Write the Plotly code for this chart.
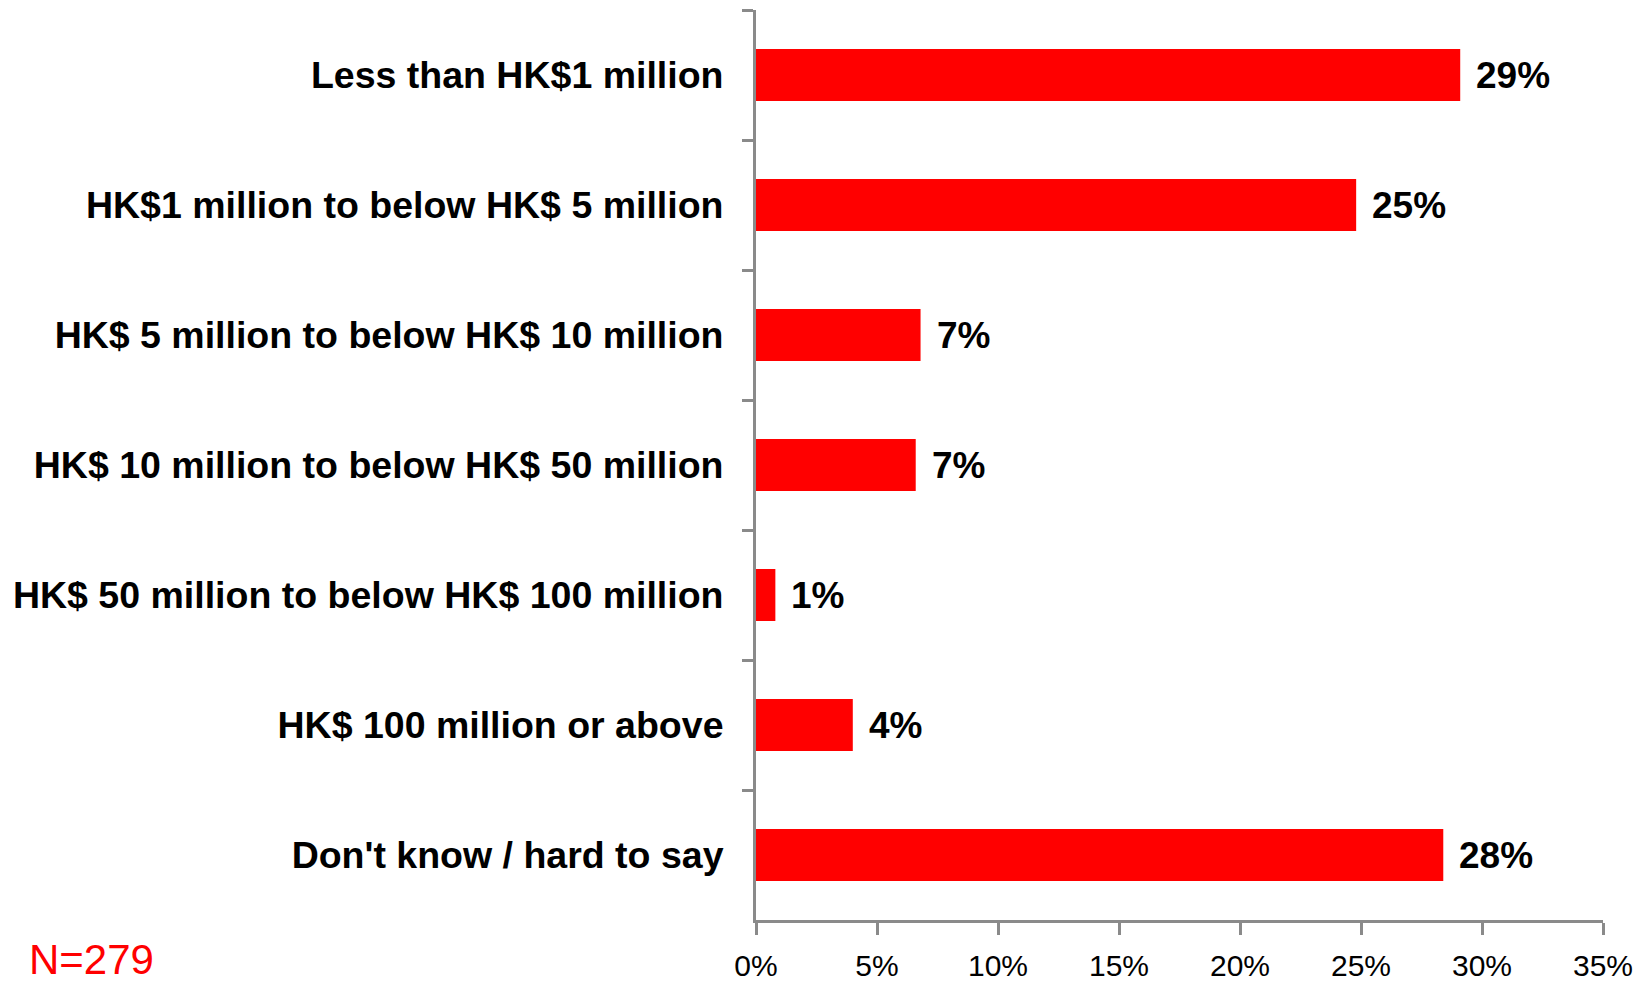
import plotly.graph_objects as go

# Survey responses: share of respondents per band
categories = [
    "Less than HK$1 million",
    "HK$1 million to below HK$ 5 million",
    "HK$ 5 million to below HK$ 10 million",
    "HK$ 10 million to below HK$ 50 million",
    "HK$ 50 million to below HK$ 100 million",
    "HK$ 100 million or above",
    "Don't know / hard to say",
]
shares = [29.1, 24.8, 6.8, 6.6, 0.8, 4.0, 28.4]
x_ticks = [0, 5, 10, 15, 20, 25, 30, 35]
x_tick_labels = ["0%", "5%", "10%", "15%", "20%", "25%", "30%", "35%"]
sample_note = "N=279"

AXIS_GREY = "#8a8a8a"
BAR_RED = "#ff0000"
FONT = "Liberation Sans, Arial"

fig = go.Figure(
    go.Bar(
        x=shares,
        y=categories,
        orientation="h",
        width=0.4,
        marker=dict(color=BAR_RED, line=dict(width=0)),
        hoverinfo="skip",
    )
)

# value labels to the right of each bar
for cat, val in zip(categories, shares):
    fig.add_annotation(
        x=val, y=cat, xref="x", yref="y",
        text=f"{val:.0f}%", showarrow=False,
        xanchor="left", yanchor="middle", xshift=14,
        font=dict(family=FONT, size=37, color="black", weight="bold"),
    )

# sample size note in the bottom-left corner
fig.add_annotation(
    x=0, y=0, xref="paper", yref="paper",
    text=sample_note, showarrow=False,
    xanchor="left", yanchor="top",
    xshift=27 - 756, yshift=-14,
    font=dict(family=FONT, size=42, color="#ff0000"),
)

fig.update_layout(
    width=1643, height=984,
    margin=dict(l=756, r=40, t=10, b=64, autoexpand=False),
    paper_bgcolor="white", plot_bgcolor="white",
    showlegend=False,
)

fig.update_xaxes(
    range=[0, 35],
    tickvals=x_ticks, ticktext=x_tick_labels,
    showgrid=False, zeroline=False,
    showline=True, linecolor=AXIS_GREY, linewidth=3,
    ticks="outside", ticklen=12, tickwidth=3, tickcolor=AXIS_GREY,
    tickfont=dict(family=FONT, size=30, color="black"),
    ticklabelstandoff=5,
)
fig.update_yaxes(
    type="category", autorange="reversed",
    showgrid=False, zeroline=False,
    showline=True, linecolor=AXIS_GREY, linewidth=3,
    ticks="outside", ticklen=11, tickwidth=3, tickcolor=AXIS_GREY,
    tickson="boundaries",
    tickfont=dict(family=FONT, size=37.5, color="black", weight="bold"),
    ticklabelstandoff=22,
)

fig.write_html("out.html")
